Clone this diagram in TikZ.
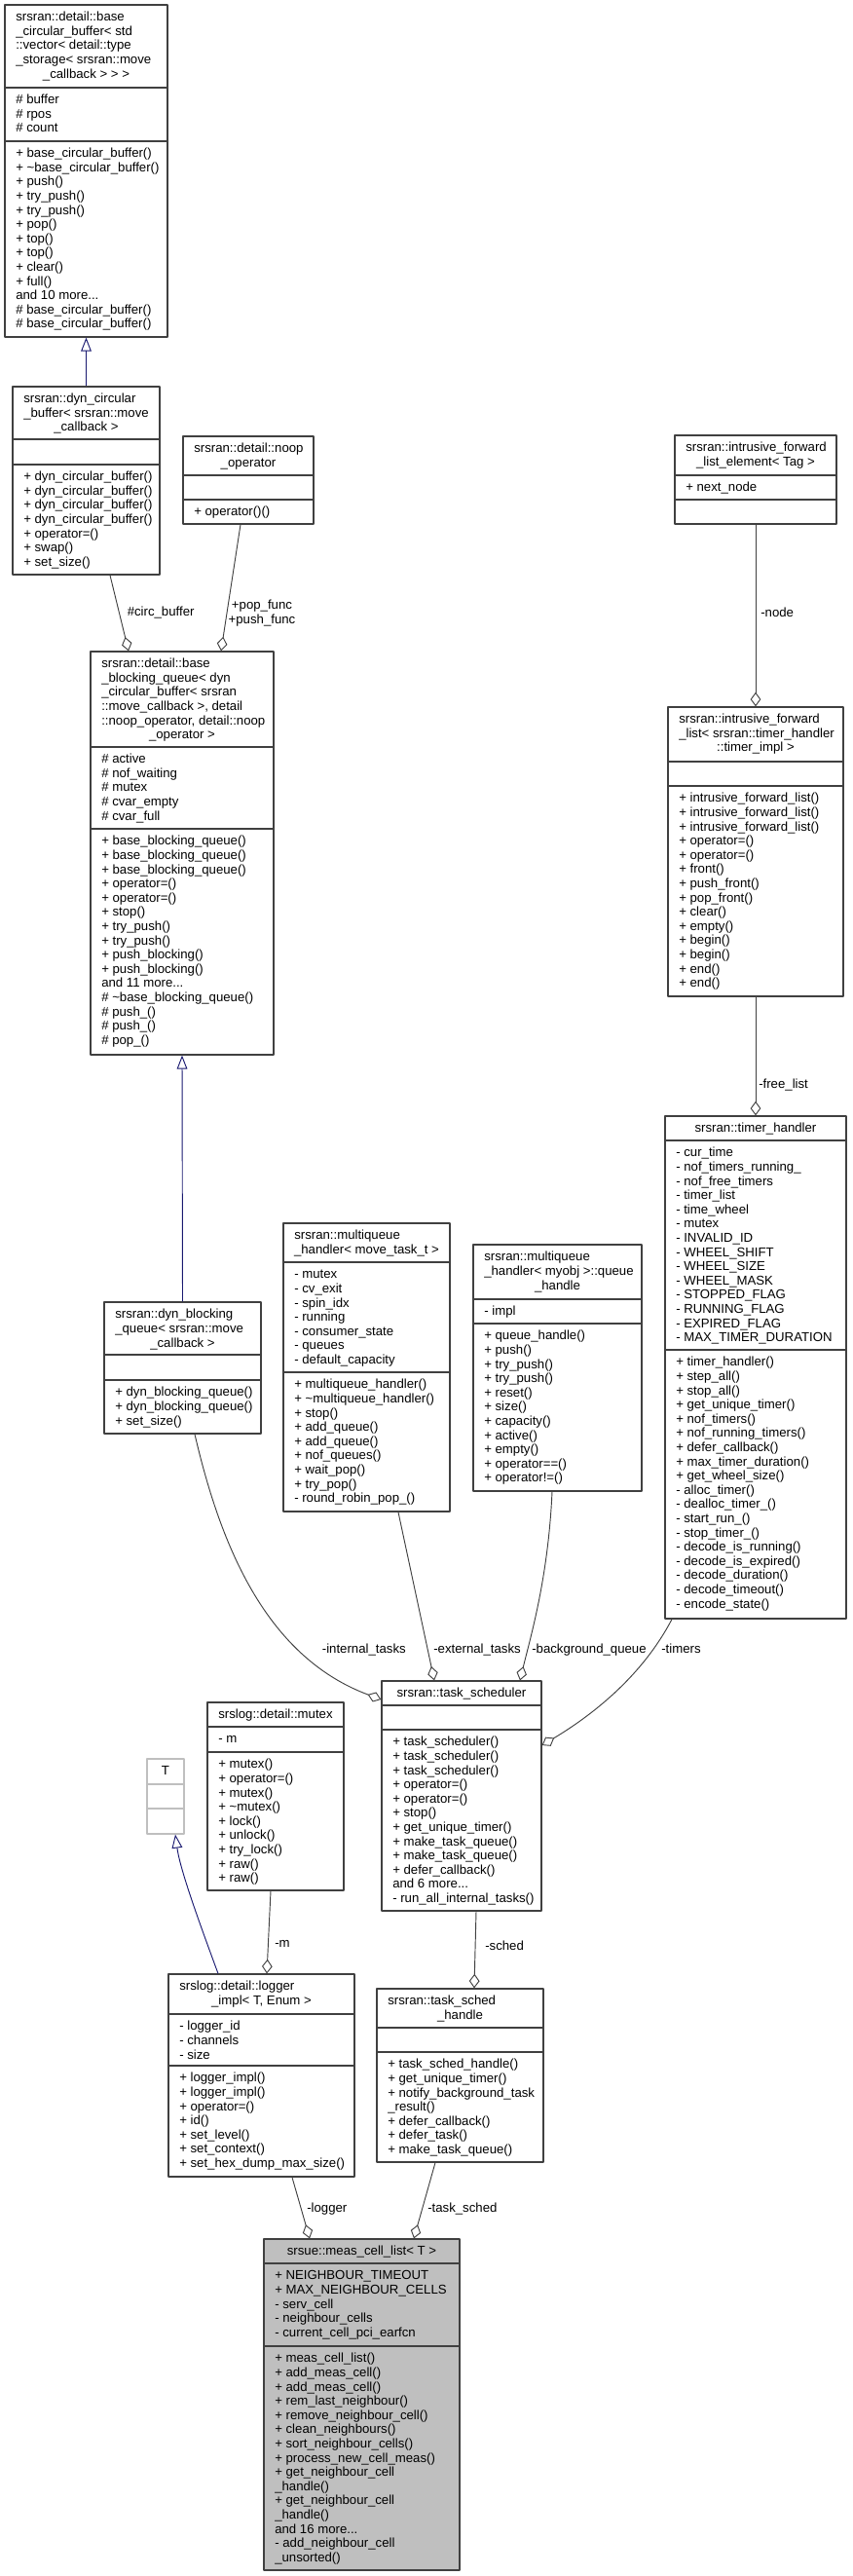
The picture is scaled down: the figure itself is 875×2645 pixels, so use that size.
\documentclass[tikz,border=0pt]{standalone}
\usepackage{fontspec}
\setmainfont{Liberation Sans}
\usepackage{tikz}
\usetikzlibrary{arrows.meta,calc,fit}
\definecolor{edgegray}{RGB}{64,64,64}
\definecolor{inhblue}{RGB}{25,25,112}
\definecolor{selgray}{RGB}{191,191,191}
\newcommand{\dxfont}{\fontsize{9.9pt}{10.95pt}\selectfont}
\tikzset{
  cls/.style={draw=edgegray, line width=0.9pt, inner sep=0pt},
  mem/.style={anchor=north west, inner sep=0pt, align=left, font=\dxfont},
  ttl/.style={anchor=north, inner sep=0pt, align=center, font=\dxfont},
  lab/.style={anchor=base west, inner sep=0pt, font=\dxfont},
  agg/.style={draw=edgegray, line width=0.7pt, -{Diamond[open,length=11pt,width=8pt]}},
  inh/.style={draw=inhblue, line width=0.7pt, -{Triangle[open,length=10.5pt,width=8pt]}},
}

\begin{document}
\begin{tikzpicture}[x=0.75pt, y=-0.75pt, line join=round]
    \useasboundingbox (0,0) rectangle (875,2645);
    % class frames
    \node[cls, fit={(5,5) (172,346)}] (bcb) {};
    \node[cls, fit={(13,397) (164,590)}] (dcb) {};
    \node[cls, fit={(188,448) (322,538)}] (noop) {};
    \node[cls, fit={(93,669) (281,1083)}] (bbq) {};
    \node[cls, fit={(693,447) (859,538)}] (ifle) {};
    \node[cls, fit={(686,726) (866,1023)}] (ifl) {};
    \node[cls, fit={(683,1146) (869,1662)}] (th) {};
    \node[cls, fit={(291,1256) (462,1552)}] (mq) {};
    \node[cls, fit={(486,1278) (659,1531)}] (qh) {};
    \node[cls, fit={(107,1337) (268,1472)}] (dbq) {};
    \node[cls, fit={(392,1726) (556,1962)}] (ts) {};
    \node[cls, fit={(213,1748) (353,1941)}] (mutex) {};
    \node[cls, draw=selgray, fit={(151,1806) (189,1883)}] (T) {};
    \node[cls, fit={(173,2027) (364,2235)}] (li) {};
    \node[cls, fit={(387,2042) (558,2220)}] (tsh) {};
    \node[cls, fill=selgray, fit={(271,2299) (472,2639)}] (meas) {};
    % section lines
    \foreach \xa/\xb/\ya/\yb in {5/172/90/145, 13/164/451/477, 188/322/488/513,
        93/281/767/851, 693/859/488/513, 686/866/782/807, 683/869/1171/1386,
        291/462/1296/1409, 486/659/1334/1359, 107/268/1391/1417, 392/556/1751/1776,
        213/353/1773/1799, 173/364/2068/2121, 387/558/2082/2107, 271/472/2324/2409} {
        \draw[edgegray, line width=0.9pt] (\xa,\ya) -- (\xb,\ya) (\xa,\yb) -- (\xb,\yb);
    }
    \draw[selgray, line width=0.9pt] (151,1832) -- (189,1832) (151,1857) -- (189,1857);
    % base_circular_buffer
    \node[mem] (bcb-t) at (16,11.3) {\strut srsran::detail::base\\\_circular\_buffer< std\\::vector< detail::type\\\_storage< srsran::move};
    \node[ttl] (bcb-c) at (88.5,69.7) {\strut\_callback > > >};
    \node[mem] (bcb-a) at (16,96.3) {\strut\# buffer\\\# rpos\\\# count};
    \node[mem] (bcb-m) at (16,151.3) {\strut+ base\_circular\_buffer()\\+ \textasciitilde base\_circular\_buffer()\\+ push()\\+ try\_push()\\+ try\_push()\\+ pop()\\+ top()\\+ top()\\+ clear()\\+ full()\\and 10 more...\\\# base\_circular\_buffer()\\\# base\_circular\_buffer()};
    % dyn_circular_buffer
    \node[mem] (dcb-t) at (24,403.3) {\strut srsran::dyn\_circular\\\_buffer< srsran::move};
    \node[ttl] (dcb-c) at (88.5,432.5) {\strut\_callback >};
    \node[mem] (dcb-m) at (24,483.3) {\strut+ dyn\_circular\_buffer()\\+ dyn\_circular\_buffer()\\+ dyn\_circular\_buffer()\\+ dyn\_circular\_buffer()\\+ operator=()\\+ swap()\\+ set\_size()};
    % noop_operator
    \node[mem] (noop-t) at (199,454.3) {\strut srsran::detail::noop};
    \node[ttl] (noop-c) at (255,468.9) {\strut\_operator};
    \node[mem] (noop-m) at (199,519.3) {\strut+ operator()()};
    % base_blocking_queue
    \node[mem] (bbq-t) at (104,675.3) {\strut srsran::detail::base\\\_blocking\_queue< dyn\\\_circular\_buffer< srsran\\::move\_callback >, detail\\::noop\_operator, detail::noop};
    \node[ttl] (bbq-c) at (187,748.3) {\strut\_operator >};
    \node[mem] (bbq-a) at (104,773.3) {\strut\# active\\\# nof\_waiting\\\# mutex\\\# cvar\_empty\\\# cvar\_full};
    \node[mem] (bbq-m) at (104,857.3) {\strut+ base\_blocking\_queue()\\+ base\_blocking\_queue()\\+ base\_blocking\_queue()\\+ operator=()\\+ operator=()\\+ stop()\\+ try\_push()\\+ try\_push()\\+ push\_blocking()\\+ push\_blocking()\\and 11 more...\\\# \textasciitilde base\_blocking\_queue()\\\# push\_()\\\# push\_()\\\# pop\_()};
    % intrusive_forward_list_element
    \node[mem] (ifle-t) at (704,453.3) {\strut srsran::intrusive\_forward};
    \node[ttl] (ifle-c) at (776,467.9) {\strut\_list\_element< Tag >};
    \node[mem] (ifle-a) at (704,494.3) {\strut+ next\_node};
    % intrusive_forward_list
    \node[mem] (ifl-t) at (697,732.3) {\strut srsran::intrusive\_forward\\\_list< srsran::timer\_handler};
    \node[ttl] (ifl-c) at (776,761.5) {\strut::timer\_impl >};
    \node[mem] (ifl-m) at (697,813.3) {\strut+ intrusive\_forward\_list()\\+ intrusive\_forward\_list()\\+ intrusive\_forward\_list()\\+ operator=()\\+ operator=()\\+ front()\\+ push\_front()\\+ pop\_front()\\+ clear()\\+ empty()\\+ begin()\\+ begin()\\+ end()\\+ end()};
    % timer_handler
    \node[ttl] (th-t) at (776,1152.3) {\strut srsran::timer\_handler};
    \node[mem] (th-a) at (694,1177.3) {\strut- cur\_time\\- nof\_timers\_running\_\\- nof\_free\_timers\\- timer\_list\\- time\_wheel\\- mutex\\- INVALID\_ID\\- WHEEL\_SHIFT\\- WHEEL\_SIZE\\- WHEEL\_MASK\\- STOPPED\_FLAG\\- RUNNING\_FLAG\\- EXPIRED\_FLAG\\- MAX\_TIMER\_DURATION};
    \node[mem] (th-m) at (694,1392.3) {\strut+ timer\_handler()\\+ step\_all()\\+ stop\_all()\\+ get\_unique\_timer()\\+ nof\_timers()\\+ nof\_running\_timers()\\+ defer\_callback()\\+ max\_timer\_duration()\\+ get\_wheel\_size()\\- alloc\_timer()\\- dealloc\_timer\_()\\- start\_run\_()\\- stop\_timer\_()\\- decode\_is\_running()\\- decode\_is\_expired()\\- decode\_duration()\\- decode\_timeout()\\- encode\_state()};
    % multiqueue_handler
    \node[mem] (mq-t) at (302,1262.3) {\strut srsran::multiqueue};
    \node[ttl] (mq-c) at (376.5,1276.9) {\strut\_handler< move\_task\_t >};
    \node[mem] (mq-a) at (302,1302.3) {\strut- mutex\\- cv\_exit\\- spin\_idx\\- running\\- consumer\_state\\- queues\\- default\_capacity};
    \node[mem] (mq-m) at (302,1415.3) {\strut+ multiqueue\_handler()\\+ \textasciitilde multiqueue\_handler()\\+ stop()\\+ add\_queue()\\+ add\_queue()\\+ nof\_queues()\\+ wait\_pop()\\+ try\_pop()\\- round\_robin\_pop\_()};
    % queue_handle
    \node[mem] (qh-t) at (497,1284.3) {\strut srsran::multiqueue\\\_handler< myobj >::queue};
    \node[ttl] (qh-c) at (572.5,1313.5) {\strut\_handle};
    \node[mem] (qh-a) at (497,1340.3) {\strut- impl};
    \node[mem] (qh-m) at (497,1365.3) {\strut+ queue\_handle()\\+ push()\\+ try\_push()\\+ try\_push()\\+ reset()\\+ size()\\+ capacity()\\+ active()\\+ empty()\\+ operator==()\\+ operator!=()};
    % dyn_blocking_queue
    \node[mem] (dbq-t) at (118,1343.3) {\strut srsran::dyn\_blocking\\\_queue< srsran::move};
    \node[ttl] (dbq-c) at (187.5,1372.5) {\strut\_callback >};
    \node[mem] (dbq-m) at (118,1423.3) {\strut+ dyn\_blocking\_queue()\\+ dyn\_blocking\_queue()\\+ set\_size()};
    % task_scheduler
    \node[ttl] (ts-t) at (474,1732.3) {\strut srsran::task\_scheduler};
    \node[mem] (ts-m) at (403,1782.3) {\strut+ task\_scheduler()\\+ task\_scheduler()\\+ task\_scheduler()\\+ operator=()\\+ operator=()\\+ stop()\\+ get\_unique\_timer()\\+ make\_task\_queue()\\+ make\_task\_queue()\\+ defer\_callback()\\and 6 more...\\- run\_all\_internal\_tasks()};
    % mutex
    \node[ttl] (mutex-t) at (283,1754.3) {\strut srslog::detail::mutex};
    \node[mem] (mutex-a) at (224,1779.3) {\strut- m};
    \node[mem] (mutex-m) at (224,1805.3) {\strut+ mutex()\\+ operator=()\\+ mutex()\\+ \textasciitilde mutex()\\+ lock()\\+ unlock()\\+ try\_lock()\\+ raw()\\+ raw()};
    % T
    \node[ttl] (T-t) at (170,1812.3) {\strut T};
    % logger_impl
    \node[mem] (li-t) at (184,2033.3) {\strut srslog::detail::logger};
    \node[ttl] (li-c) at (268.5,2047.9) {\strut\_impl< T, Enum >};
    \node[mem] (li-a) at (184,2074.3) {\strut- logger\_id\\- channels\\- size};
    \node[mem] (li-m) at (184,2127.3) {\strut+ logger\_impl()\\+ logger\_impl()\\+ operator=()\\+ id()\\+ set\_level()\\+ set\_context()\\+ set\_hex\_dump\_max\_size()};
    % task_sched_handle
    \node[mem] (tsh-t) at (398,2048.3) {\strut srsran::task\_sched};
    \node[ttl] (tsh-c) at (472.5,2062.9) {\strut\_handle};
    \node[mem] (tsh-m) at (398,2113.3) {\strut+ task\_sched\_handle()\\+ get\_unique\_timer()\\+ notify\_background\_task\\\_result()\\+ defer\_callback()\\+ defer\_task()\\+ make\_task\_queue()};
    % meas_cell_list
    \node[ttl] (meas-t) at (371.5,2305.3) {\strut srsue::meas\_cell\_list< T >};
    \node[mem] (meas-a) at (282,2330.3) {\strut+ NEIGHBOUR\_TIMEOUT\\+ MAX\_NEIGHBOUR\_CELLS\\- serv\_cell\\- neighbour\_cells\\- current\_cell\_pci\_earfcn};
    \node[mem] (meas-m) at (282,2415.3) {\strut+ meas\_cell\_list()\\+ add\_meas\_cell()\\+ add\_meas\_cell()\\+ rem\_last\_neighbour()\\+ remove\_neighbour\_cell()\\+ clean\_neighbours()\\+ sort\_neighbour\_cells()\\+ process\_new\_cell\_meas()\\+ get\_neighbour\_cell\\\_handle()\\+ get\_neighbour\_cell\\\_handle()\\and 16 more...\\- add\_neighbour\_cell\\\_unsorted()};
    % inheritance
    \draw[inh] (dcb.north) -- (bcb.south);
    \draw[inh] (dbq.north) -- (bbq.south);
    \draw[inh] ($(li.north)+(-44.5,0)$) .. controls (205,1975) and (185,1920) .. ($(T.south)+(10,0)$);
    % members
    \draw[agg] ($(dcb.south)+(24.5,0)$) -- ($(bbq.north)+(-55,0)$);
    \draw[agg] ($(noop.south)+(-8,0)$) -- ($(bbq.north)+(40,0)$);
    \draw[agg] (ifle.south) -- (ifl.north);
    \draw[agg] (ifl.south) -- (th.north);
    \draw[agg] ($(dbq.south)+(12.5,0)$) .. controls (225,1580) and (270,1700) .. ($(ts.west)+(0,-99)$);
    \draw[agg] ($(mq.south)+(32.5,0)$) -- ($(ts.north)+(-28,0)$);
    \draw[agg] ($(qh.south)+(-5.5,0)$) .. controls (563,1620) and (545,1680) .. ($(ts.north)+(60,0)$);
    \draw[agg] ($(th.south)+(-86,0)$) .. controls (660,1720) and (610,1760) .. ($(ts.east)+(0,-52)$);
    \draw[agg] ($(ts.south)+(15,0)$) -- ($(tsh.north)+(14.5,0)$);
    \draw[agg] ($(mutex.south)+(-5,0)$) -- ($(li.north)+(5.5,0)$);
    \draw[agg] ($(li.south)+(31.5,0)$) -- ($(meas.north)+(-53.5,0)$);
    \draw[agg] ($(tsh.south)+(-25.5,0)$) -- ($(meas.north)+(53.5,0)$);
    % member labels
    \node[lab] (lcirc) at (130.5,632.5) {\#circ\_buffer};
    \node[ttl] (lfunc) at (269,615.3) {\strut+pop\_func\\+push\_func};
    \node[lab] (lnode) at (781,633.5) {-node};
    \node[lab] (lfree) at (779,1117.5) {-free\_list};
    \node[lab, anchor=base east] (lint) at (417,1697.5) {-internal\_tasks};
    \node[lab] (lext) at (445,1697.5) {-external\_tasks};
    \node[lab] (lbg) at (546,1697.5) {-background\_queue};
    \node[lab] (ltimers) at (679,1697.5) {-timers};
    \node[lab] (lsched) at (498,2002) {-sched};
    \node[lab] (lm) at (282,1999.5) {-m};
    \node[lab] (llogger) at (315,2271) {-logger};
    \node[lab] (ltsched) at (439,2271) {-task\_sched};
\end{tikzpicture}
\end{document}
